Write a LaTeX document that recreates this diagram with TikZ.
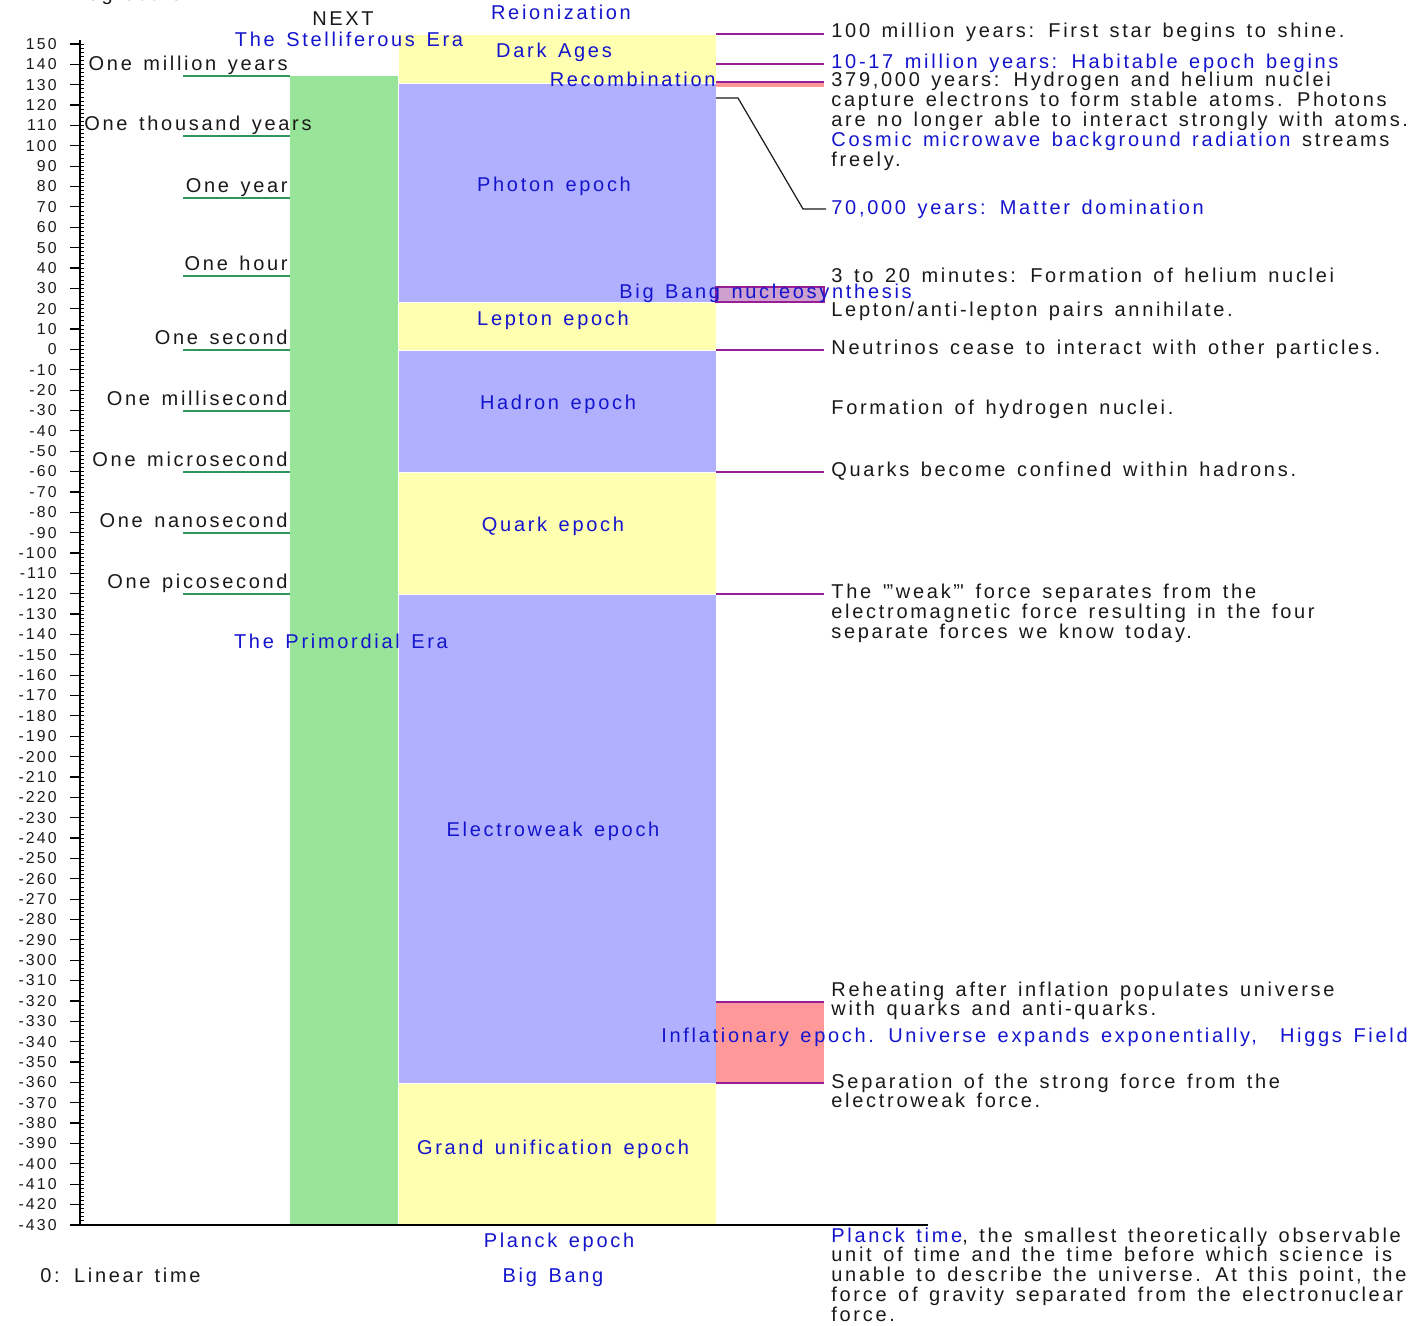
\documentclass[tikz,border=0pt]{standalone}
\usepackage{fontspec}
\setmainfont{Liberation Sans}[LetterSpace=13.5,WordSpace=1.4]
\definecolor{eyellow}{RGB}{255,255,176}
\definecolor{eblue}{RGB}{176,176,255}
\definecolor{egreen}{RGB}{152,228,152}
\definecolor{epink}{RGB}{255,153,153}
\definecolor{ebbn}{RGB}{205,160,205}
\definecolor{epurple}{RGB}{150,30,150}
\definecolor{etext}{RGB}{25,25,25}
\definecolor{etxtblue}{RGB}{20,20,205}
\definecolor{eline}{RGB}{50,150,90}
\newcommand{\mylines}[1]{{\renewcommand{\arraystretch}{0.95}\begin{tabular}[t]{@{}l@{}}#1\end{tabular}}}
\begin{document}
\begin{tikzpicture}[x=0.5pt,y=-0.5pt,
  lbl/.style={font=\fontsize{10}{9.5}\selectfont, inner sep=0pt, text=etext},
  blbl/.style={lbl, text=etxtblue},
  axlbl/.style={font=\fontsize{7.9}{7.9}\selectfont, inner sep=0pt, anchor=east, text=etext},
  conn/.style={draw=epurple, line width=0.8pt},
  uline/.style={draw=eline, line width=0.8pt},
  band/.style={draw=white, line width=0.4pt}]
\useasboundingbox (0,0) rectangle (1421,1326);
% columns
\fill[egreen] (290,76) rectangle (398,1225);
\path[band, fill=eyellow] (398,34) rectangle (716,83);
\path[band, fill=eblue] (398,83) rectangle (716,302);
\path[band, fill=eyellow] (398,302) rectangle (716,350);
\path[band, fill=eblue] (398,350) rectangle (716,472);
\path[band, fill=eyellow] (398,472) rectangle (716,594);
\path[band, fill=eblue] (398,594) rectangle (716,1083);
\path[band, fill=eyellow] (398,1083) rectangle (716,1225);
% side boxes
\fill[epink] (716,82) rectangle (824,87);
\path[fill=ebbn, draw=epurple, line width=0.8pt] (716,287) rectangle (824,302);
\fill[epink] (716,1002) rectangle (824,1083);
% axis
\draw[line width=0.8pt] (80,40) -- (80,1225);
\foreach \v in {150,140,...,-430} {
  \draw[line width=0.6pt] (70,{44+(150-\v)*2.036}) -- (80,{44+(150-\v)*2.036});
  \node[axlbl] (ax\v) at (57,{44+(150-\v)*2.036}) {\v};
}
\foreach \v in {150,148,...,-430} {
  \draw[line width=0.4pt] (80,{44+(150-\v)*2.036}) -- (84,{44+(150-\v)*2.036});
}
\draw[line width=1pt] (70,1225) -- (928,1225);
% green underlines
\foreach \yy in {76,136,198,276,350,411,472,533,594} {
  \draw[uline] (183,\yy) -- (290,\yy);
}
% left labels
\node[lbl, anchor=base west] (toptxt) at (40,1) {1: Log scale};
\node[lbl, anchor=base] (next) at (343,26) {NEXT};
\node[lbl, anchor=base east] (lmy) at (288,71) {One million years};
\node[lbl, anchor=base west] (lty) at (84,131) {One thousand years};
\node[lbl, anchor=base east] (ly) at (288,193) {One year};
\node[lbl, anchor=base east] (lh) at (288,271) {One hour};
\node[lbl, anchor=base east] (ls) at (288,345) {One second};
\node[lbl, anchor=base east] (lms) at (288,406) {One millisecond};
\node[lbl, anchor=base east] (lus) at (288,467) {One microsecond};
\node[lbl, anchor=base east] (lns) at (288,528) {One nanosecond};
\node[lbl, anchor=base east] (lps) at (288,589) {One picosecond};
\node[lbl, anchor=base west] (linear) at (40,1282) {0: Linear time};
% blue labels
\node[blbl, anchor=base] (reion) at (561,20) {Reionization};
\node[blbl, anchor=base] (stell) at (349,47) {The Stelliferous Era};
\node[blbl, anchor=base] (dark) at (554,58) {Dark Ages};
\node[blbl, anchor=base east] (recomb) at (716,87) {Recombination};
\node[blbl, anchor=base] (photon) at (554,192) {Photon epoch};
\node[blbl, anchor=base west] (bbn) at (619,299) {Big Bang nucleosynthesis};
\node[blbl, anchor=base] (lepton) at (553,326) {Lepton epoch};
\node[blbl, anchor=base] (hadron) at (558,410) {Hadron epoch};
\node[blbl, anchor=base] (quark) at (553,532) {Quark epoch};
\node[blbl, anchor=base] (primo) at (341,649) {The Primordial Era};
\node[blbl, anchor=base] (ew) at (553,837) {Electroweak epoch};
\node[blbl, anchor=base west] (infl) at (661,1042) {Inflationary epoch. Universe expands exponentially,\ \ Higgs Field};
\node[blbl, anchor=base] (gut) at (553,1154) {Grand unification epoch};
\node[blbl, anchor=base] (planck) at (559,1247) {Planck epoch};
\node[blbl, anchor=base] (bb) at (553,1282) {Big Bang};
% right texts
\node[lbl, anchor=base west] (t100) at (831,38) {100 million years: First star begins to shine.};
\node[blbl, anchor=base west] (thab) at (831,69) {10-17 million years: Habitable epoch begins};
\node[lbl, anchor=base west] (t379) at (831,87) {\mylines{379,000 years: Hydrogen and helium nuclei\\
capture electrons to form stable atoms. Photons\\
are no longer able to interact strongly with atoms.\\
\textcolor{etxtblue}{Cosmic microwave background radiation} streams\\
freely.}};
\node[blbl, anchor=base west] (t70) at (831,215) {70,000 years: Matter domination};
\node[lbl, anchor=base west] (t3m) at (831,283) {3 to 20 minutes: Formation of helium nuclei};
\node[lbl, anchor=base west] (tlep) at (831,317) {Lepton/anti-lepton pairs annihilate.};
\node[lbl, anchor=base west] (tneu) at (831,355) {Neutrinos cease to interact with other particles.};
\node[lbl, anchor=base west] (thyd) at (831,415) {Formation of hydrogen nuclei.};
\node[lbl, anchor=base west] (tqrk) at (831,477) {Quarks become confined within hadrons.};
\node[lbl, anchor=base west] (tweak) at (831,599) {\mylines{The \textquotesingle"weak"\textquotesingle{} force separates from the\\
electromagnetic force resulting in the four\\
separate forces we know today.}};
\node[lbl, anchor=base west] (treh) at (831,996) {\mylines{Reheating after inflation populates universe\\
with quarks and anti-quarks.}};
\node[lbl, anchor=base west] (tsep) at (831,1088) {\mylines{Separation of the strong force from the\\
electroweak force.}};
\node[lbl, anchor=base west] (tpl) at (831,1242) {\mylines{\textcolor{etxtblue}{Planck time}, the smallest theoretically observable\\
unit of time and the time before which science is\\
unable to describe the universe. At this point, the\\
force of gravity separated from the electronuclear\\
force.}};
% connectors
\coordinate (a100) at (716,34);  \coordinate (b100) at (824,34);
\coordinate (ahab) at (716,64);  \coordinate (bhab) at (824,64);
\coordinate (arec) at (716,82);  \coordinate (brec) at (824,82);
\coordinate (aneu) at (716,350); \coordinate (bneu) at (824,350);
\coordinate (aqrk) at (716,472); \coordinate (bqrk) at (824,472);
\coordinate (awk) at (716,594);  \coordinate (bwk) at (824,594);
\coordinate (areh) at (716,1002); \coordinate (breh) at (824,1002);
\coordinate (asep) at (716,1083); \coordinate (bsep) at (824,1083);
\foreach \c in {100,hab,rec,neu,qrk,wk,reh,sep} { \draw[conn] (a\c) -- (b\c); }
\coordinate (m1) at (716,98); \coordinate (m2) at (738,98); \coordinate (m3) at (803,209); \coordinate (m4) at (826,209);
\draw[line width=0.6pt, etext] (m1) -- (m2) -- (m3) -- (m4);
\end{tikzpicture}
\end{document}
